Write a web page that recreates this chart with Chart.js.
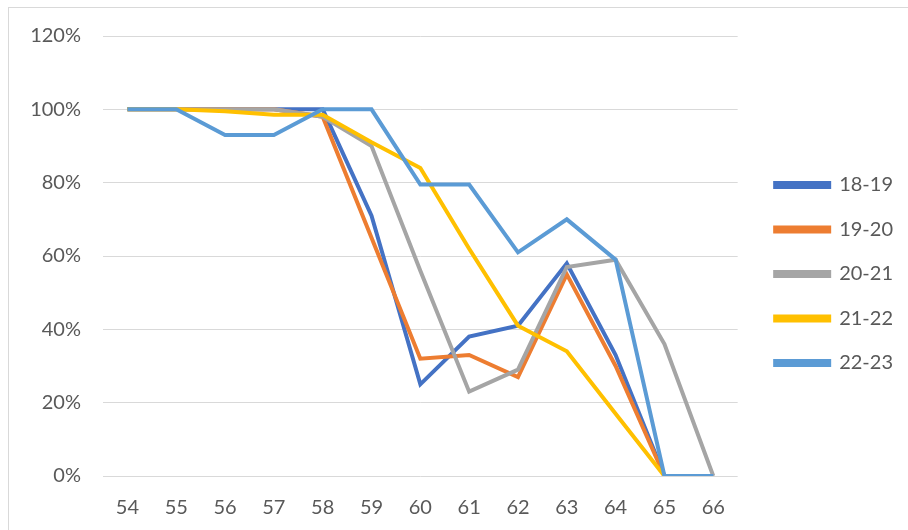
<!DOCTYPE html>
<html>
<head>
<meta charset="utf-8">
<script src="https://cdn.jsdelivr.net/npm/chart.js@4/dist/chart.umd.min.js"></script>
<style>
  body { margin: 0; background: #fff; overflow: hidden; }
  #wrap { position: absolute; left: 0; top: 0; width: 908px; height: 530px; }
  #frame { position: absolute; left: 8px; top: 7px; width: 1000px; height: 1000px; border: 1px solid #d9d9d9; pointer-events: none; }
</style>
</head>
<body>
<div id="wrap"><canvas id="grafico"></canvas></div>
<div id="frame"></div>
<script>
const idades = ['54', '55', '56', '57', '58', '59', '60', '61', '62', '63', '64', '65', '66'];
const s1819 = [100, 100, 100, 100, 100, 71, 25, 38, 41, 58, 33, 0, null];
const s1920 = [100, 100, 100, 100, 98, 65, 32, 33, 27, 55, 30, 0, null];
const s2021 = [100, 100, 100, 100, 98, 90, 56, 23, 29, 57, 59, 36, 0];
const s2122 = [100, 100, 99.5, 98.5, 98.5, 91, 84, 62, 41, 34, 17, 0, null];
const s2223 = [100, 100, 93, 93, 100, 100, 79.5, 79.5, 61, 70, 59, 0, 0];

const fonte = { family: 'Lato, "Liberation Sans", sans-serif', size: 20 };

function serie(label, data, cor, ordem) {
    return {
        label: label,
        data: data,
        borderColor: cor,
        backgroundColor: cor,
        borderWidth: 4,
        pointRadius: 0,
        tension: 0,
        fill: false,
        order: ordem
    };
}

// empurra a legenda um pouco para a direita e para cima, como no Excel
const deslocaLegenda = {
    id: 'deslocaLegenda',
    afterLayout(chart) {
        chart.legend.left += 13;
        chart.legend.right += 13;
        chart.legend.top -= 4;
        chart.legend.bottom -= 4;
    }
};

const ctx = document.getElementById('grafico').getContext('2d');

new Chart(ctx, {
    type: 'line',
    data: {
        labels: idades,
        datasets: [
            serie('18-19', s1819, '#4472C4', 5),
            serie('19-20', s1920, '#ED7D31', 4),
            serie('20-21', s2021, '#A5A5A5', 3),
            serie('21-22', s2122, '#FFC000', 2),
            serie('22-23', s2223, '#5B9BD5', 1)
        ]
    },
    plugins: [deslocaLegenda],
    options: {
        responsive: true,
        maintainAspectRatio: false,
        animation: false,
        layout: {
            padding: { top: 36, left: 8, right: 18, bottom: 10 }
        },
        plugins: {
            tooltip: { enabled: false },
            legend: {
                position: 'right',
                labels: {
                    boxWidth: 54,
                    boxHeight: 4,
                    padding: 24.5,
                    color: '#595959',
                    font: fonte,
                    sort: (a, b) => a.datasetIndex - b.datasetIndex
                }
            }
        },
        scales: {
            x: {
                offset: true,
                grid: { display: false, drawTicks: false },
                border: { display: false },
                ticks: { color: '#595959', font: fonte, padding: 20 },
                afterFit: scale => { scale.height = 44; }
            },
            y: {
                min: 0,
                max: 120,
                ticks: {
                    stepSize: 20,
                    color: '#595959',
                    font: fonte,
                    padding: 22,
                    callback: v => v + '%'
                },
                grid: { color: '#d9d9d9', lineWidth: 1, drawTicks: false },
                border: { display: false },
                afterFit: scale => { scale.width = 95; }
            }
        }
    }
});
</script>
</body>
</html>
